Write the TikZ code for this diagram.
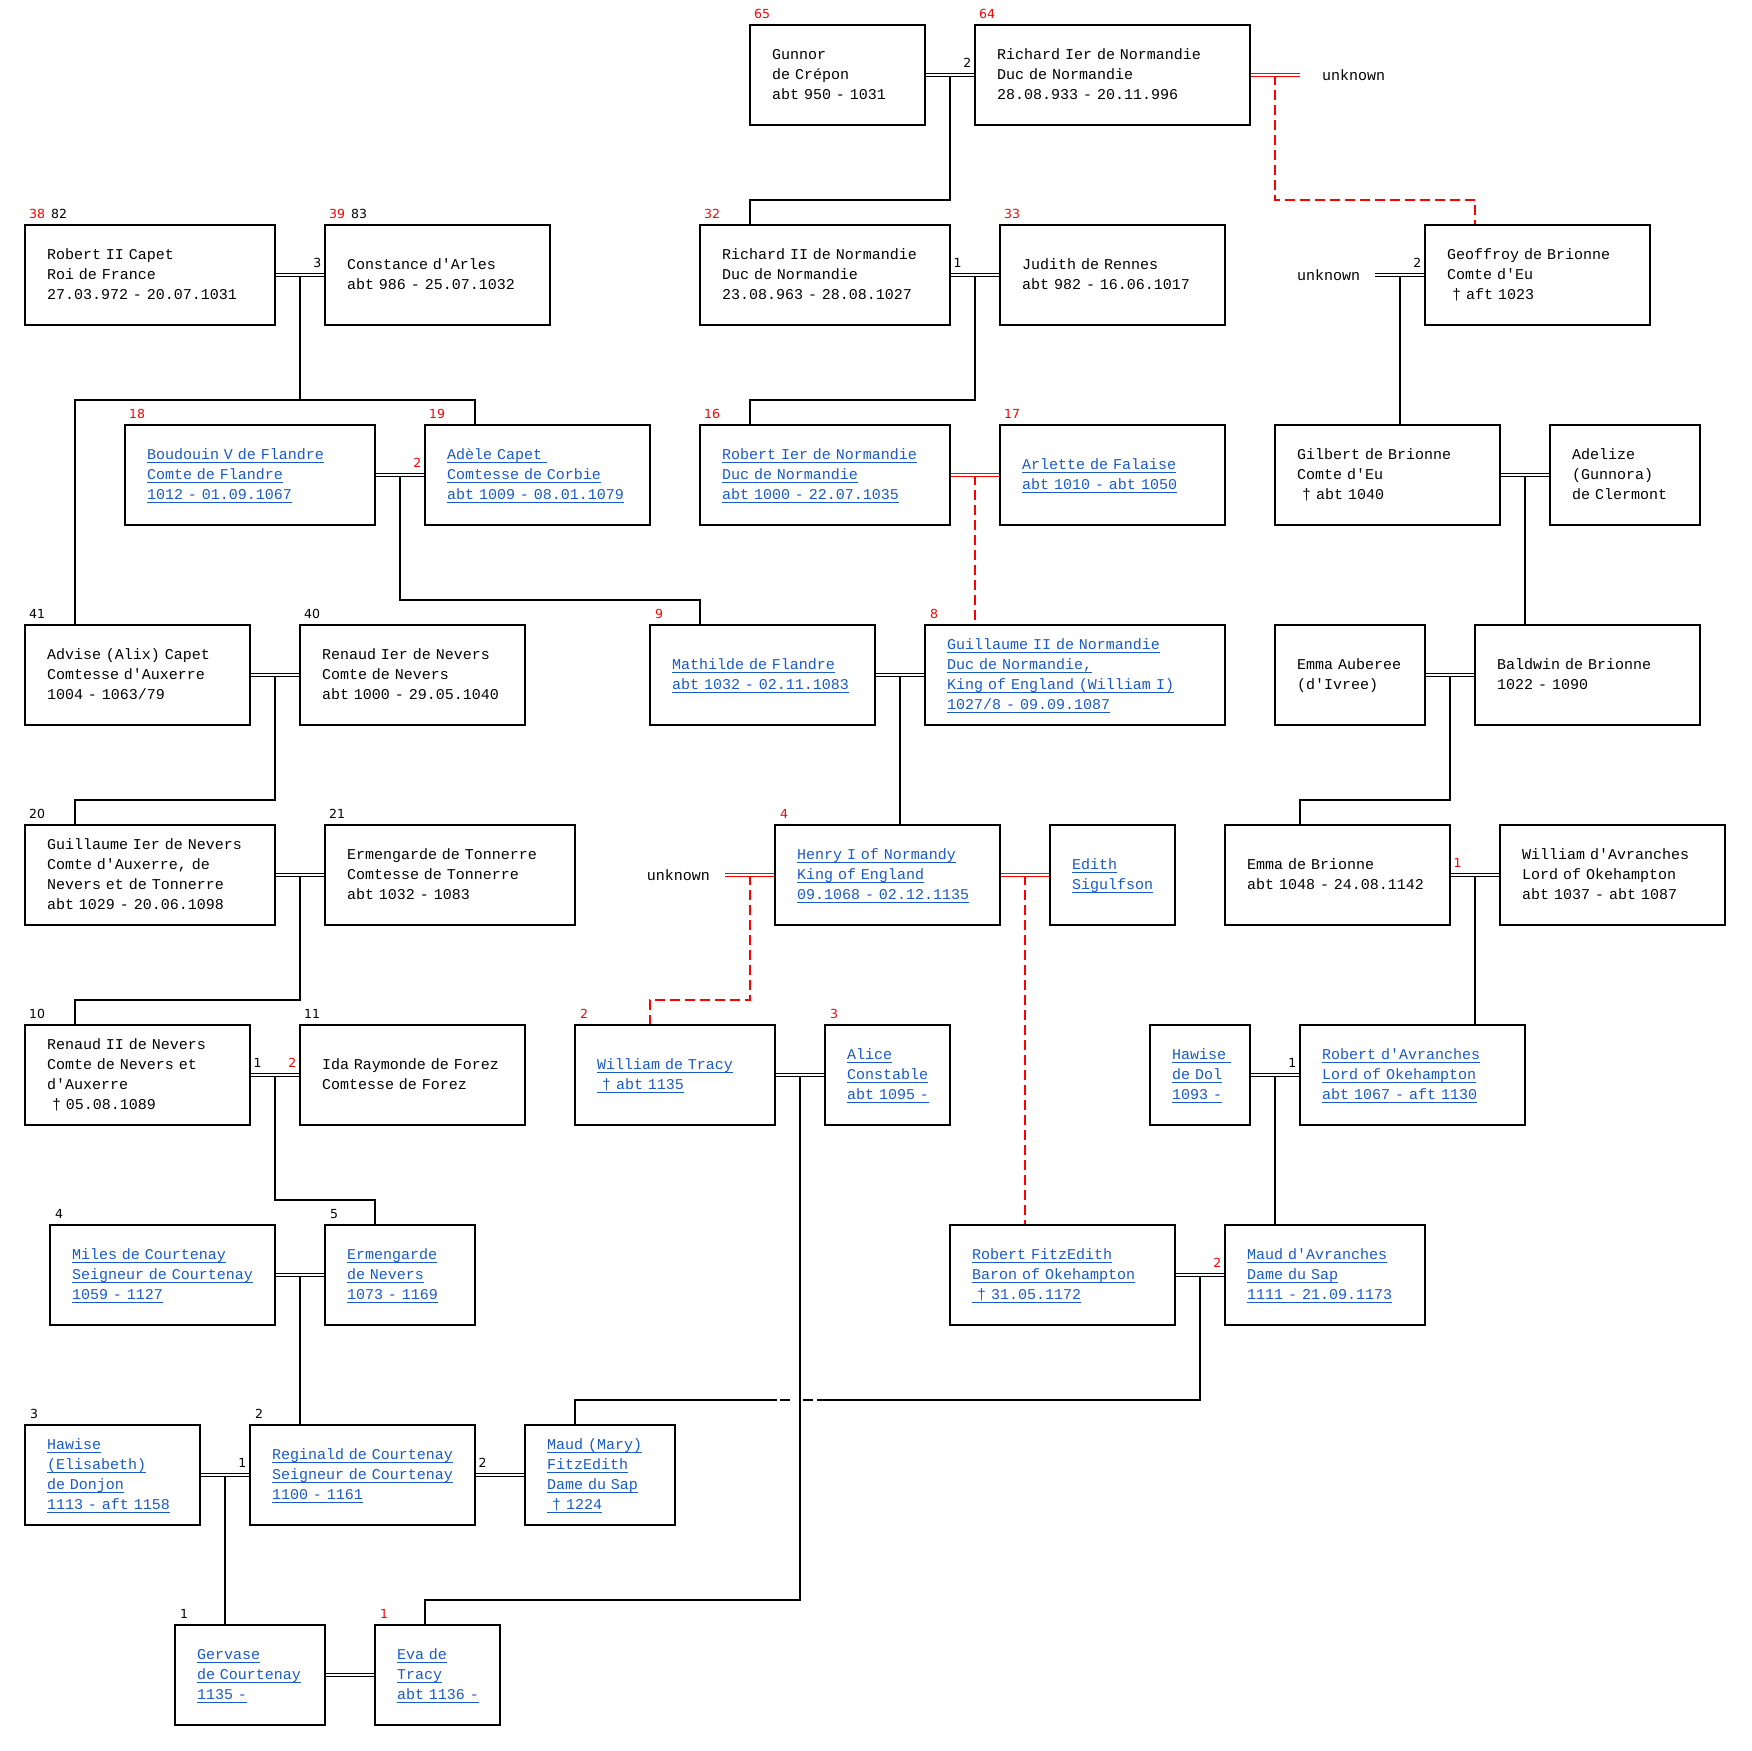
\documentclass[tikz,border=0pt]{standalone}
\usepackage{xcolor}
\usepackage{tikz}
\usepackage{fontspec}
\usetikzlibrary{positioning, calc, backgrounds}
\newfontfamily\boxfont{Liberation Mono}[Ligatures=TeXOff]
\newfontfamily\numfont{DejaVu Sans}
\definecolor{linkblue}{RGB}{25, 90, 200}
\definecolor{markred}{RGB}{255, 0, 0}

% lines of a box, never broken
\newcommand{\plines}[1]{\begin{tabular}{@{}l@{}}#1\end{tabular}}
% underlined line of a linked entry
\newcommand{\lnk}[1]{\setbox0=\hbox{#1}\rlap{\rule[-4pt]{\wd0}{1.1pt}}\box0}

\tikzset{
    person/.style={draw, line width=2.7pt, outer sep=0pt, inner xsep=22pt, inner ysep=0pt,
                   minimum height=100pt, anchor=north west, align=left, text width=#1,
                   font=\boxfont\fontsize{15}{20}\selectfont},
    linked/.style={text=linkblue},
    unk/.style={font=\boxfont\fontsize{15}{20}\selectfont, inner ysep=0pt, outer sep=0pt},
    num/.style={font=\numfont\fontsize{12.5}{14}\selectfont, inner sep=0pt, anchor=west},
    marr/.style={double, double distance=1.8pt, line width=0.9pt},
    kid/.style={line width=1.8pt},
    kidred/.style={line width=1.8pt, draw=markred, dash pattern=on 10pt off 5pt},
    hopgap/.style={fill=white}
}

\begin{document}
\begin{tikzpicture}[x=1pt, y=-1pt]
    \useasboundingbox (0,0) rectangle (1751,1751);

    % row 1
    \node[person=131pt] (gunnor) at (750,25) {\plines{Gunnor\\de Crépon\\abt 950 - 1031}};
    \node[person=231pt] (richard1) at (975,25) {\plines{Richard Ier de Normandie\\Duc de Normandie\\28.08.933 - 20.11.996}};
    \node[unk, anchor=west, inner xsep=22pt] (unkA) at (1300,75) {unknown};

    % row 2
    \node[person=206pt] (robert2) at (25,225) {\plines{Robert II Capet\\Roi de France\\27.03.972 - 20.07.1031}};
    \node[person=181pt] (constance) at (325,225) {\plines{Constance d'Arles\\abt 986 - 25.07.1032}};
    \node[person=206pt] (richard2) at (700,225) {\plines{Richard II de Normandie\\Duc de Normandie\\23.08.963 - 28.08.1027}};
    \node[person=181pt] (judith) at (1000,225) {\plines{Judith de Rennes\\abt 982 - 16.06.1017}};
    \node[unk, anchor=east, inner xsep=15pt] (unkB) at (1375,275) {unknown};
    \node[person=181pt] (geoffroy) at (1425,225) {\plines{Geoffroy de Brionne\\Comte d'Eu\\\ † aft 1023}};

    % row 3
    \node[person=206pt, linked] (boudouin) at (125,425) {\plines{\lnk{Boudouin V de Flandre}\\\lnk{Comte de Flandre}\\\lnk{1012 - 01.09.1067}}};
    \node[person=181pt, linked] (adele) at (425,425) {\plines{\lnk{Adèle Capet\ }\\\lnk{Comtesse de Corbie}\\\lnk{abt 1009 - 08.01.1079}}};
    \node[person=206pt, linked] (robert1) at (700,425) {\plines{\lnk{Robert Ier de Normandie}\\\lnk{Duc de Normandie}\\\lnk{abt 1000 - 22.07.1035}}};
    \node[person=181pt, linked] (arlette) at (1000,425) {\plines{\lnk{Arlette de Falaise}\\\lnk{abt 1010 - abt 1050}}};
    \node[person=181pt] (gilbert) at (1275,425) {\plines{Gilbert de Brionne\\Comte d'Eu\\\ † abt 1040}};
    \node[person=106pt] (adelize) at (1550,425) {\plines{Adelize\\(Gunnora)\\de Clermont}};

    % row 4
    \node[person=181pt] (advise) at (25,625) {\plines{Advise (Alix) Capet\\Comtesse d'Auxerre\\1004 - 1063/79}};
    \node[person=181pt] (renaud1) at (300,625) {\plines{Renaud Ier de Nevers\\Comte de Nevers\\abt 1000 - 29.05.1040}};
    \node[person=181pt, linked] (mathilde) at (650,625) {\plines{\lnk{Mathilde de Flandre}\\\lnk{abt 1032 - 02.11.1083}}};
    \node[person=256pt, linked] (guillaume2) at (925,625) {\plines{\lnk{Guillaume II de Normandie}\\\lnk{Duc de Normandie,}\\\lnk{King of England (William I)}\\\lnk{1027/8 - 09.09.1087}}};
    \node[person=106pt] (emmaaub) at (1275,625) {\plines{Emma Auberee\\(d'Ivree)}};
    \node[person=181pt] (baldwin) at (1475,625) {\plines{Baldwin de Brionne\\1022 - 1090}};

    % row 5
    \node[person=206pt] (guillaume1) at (25,825) {\plines{Guillaume Ier de Nevers\\Comte d'Auxerre, de\\Nevers et de Tonnerre\\abt 1029 - 20.06.1098}};
    \node[person=206pt] (ermtonn) at (325,825) {\plines{Ermengarde de Tonnerre\\Comtesse de Tonnerre\\abt 1032 - 1083}};
    \node[unk, anchor=east, inner xsep=15pt] (unkC) at (725,875) {unknown};
    \node[person=181pt, linked] (henry) at (775,825) {\plines{\lnk{Henry I of Normandy}\\\lnk{King of England}\\\lnk{09.1068 - 02.12.1135}}};
    \node[person=81pt, linked] (edith) at (1050,825) {\plines{\lnk{Edith}\\\lnk{Sigulfson}}};
    \node[person=181pt] (emmabri) at (1225,825) {\plines{Emma de Brionne\\abt 1048 - 24.08.1142}};
    \node[person=181pt] (williamav) at (1500,825) {\plines{William d'Avranches\\Lord of Okehampton\\abt 1037 - abt 1087}};

    % row 6
    \node[person=181pt] (renaud2) at (25,1025) {\plines{Renaud II de Nevers\\Comte de Nevers et\\d'Auxerre\\\ † 05.08.1089}};
    \node[person=181pt] (ida) at (300,1025) {\plines{Ida Raymonde de Forez\\Comtesse de Forez}};
    \node[person=156pt, linked] (tracy) at (575,1025) {\plines{\lnk{William de Tracy}\\\lnk{\ † abt 1135}}};
    \node[person=81pt, linked] (alice) at (825,1025) {\plines{\lnk{Alice}\\\lnk{Constable}\\\lnk{abt 1095 -}}};
    \node[person=56pt, linked] (hawisedol) at (1150,1025) {\plines{\lnk{Hawise\ }\\\lnk{de Dol}\\\lnk{1093 -}}};
    \node[person=181pt, linked] (robertav) at (1300,1025) {\plines{\lnk{Robert d'Avranches}\\\lnk{Lord of Okehampton}\\\lnk{abt 1067 - aft 1130}}};

    % row 7
    \node[person=181pt, linked] (miles) at (50,1225) {\plines{\lnk{Miles de Courtenay}\\\lnk{Seigneur de Courtenay}\\\lnk{1059 - 1127}}};
    \node[person=106pt, linked] (ermnevers) at (325,1225) {\plines{\lnk{Ermengarde}\\\lnk{de Nevers}\\\lnk{1073 - 1169}}};
    \node[person=181pt, linked] (fitzedith) at (950,1225) {\plines{\lnk{Robert FitzEdith}\\\lnk{Baron of Okehampton}\\\lnk{\ † 31.05.1172}}};
    \node[person=156pt, linked] (maudav) at (1225,1225) {\plines{\lnk{Maud d'Avranches}\\\lnk{Dame du Sap}\\\lnk{1111 - 21.09.1173}}};

    % row 8
    \node[person=131pt, linked] (hawise) at (25,1425) {\plines{\lnk{Hawise}\\\lnk{(Elisabeth)}\\\lnk{de Donjon}\\\lnk{1113 - aft 1158}}};
    \node[person=181pt, linked] (reginald) at (250,1425) {\plines{\lnk{Reginald de Courtenay}\\\lnk{Seigneur de Courtenay}\\\lnk{1100 - 1161}}};
    \node[person=106pt, linked] (maudmary) at (525,1425) {\plines{\lnk{Maud (Mary)}\\\lnk{FitzEdith}\\\lnk{Dame du Sap}\\\lnk{\ † 1224}}};

    % row 9
    \node[person=106pt, linked] (gervase) at (175,1625) {\plines{\lnk{Gervase}\\\lnk{de Courtenay}\\\lnk{1135 -}}};
    \node[person=81pt, linked] (eva) at (375,1625) {\plines{\lnk{Eva de}\\\lnk{Tracy}\\\lnk{abt 1136 -}}};

    % numbers over the boxes
    \node[num, text=markred] (noGunnor) at ([xshift=4pt, yshift=11pt]gunnor.north west) {65};
    \node[num, text=markred] (noRichard1) at ([xshift=4pt, yshift=11pt]richard1.north west) {64};
    \node[num] (noRobert2) at ([xshift=4pt, yshift=11pt]robert2.north west) {\textcolor{markred}{38}\hspace{6pt}82};
    \node[num] (noConstance) at ([xshift=4pt, yshift=11pt]constance.north west) {\textcolor{markred}{39}\hspace{6pt}83};
    \node[num, text=markred] (noRichard2) at ([xshift=4pt, yshift=11pt]richard2.north west) {32};
    \node[num, text=markred] (noJudith) at ([xshift=4pt, yshift=11pt]judith.north west) {33};
    \node[num, text=markred] (noBoudouin) at ([xshift=4pt, yshift=11pt]boudouin.north west) {18};
    \node[num, text=markred] (noAdele) at ([xshift=4pt, yshift=11pt]adele.north west) {19};
    \node[num, text=markred] (noRobert1) at ([xshift=4pt, yshift=11pt]robert1.north west) {16};
    \node[num, text=markred] (noArlette) at ([xshift=4pt, yshift=11pt]arlette.north west) {17};
    \node[num] (noAdvise) at ([xshift=4pt, yshift=11pt]advise.north west) {41};
    \node[num] (noRenaud1) at ([xshift=4pt, yshift=11pt]renaud1.north west) {40};
    \node[num, text=markred] (noMathilde) at ([xshift=5pt, yshift=11pt]mathilde.north west) {9};
    \node[num, text=markred] (noGuillaume2) at ([xshift=5pt, yshift=11pt]guillaume2.north west) {8};
    \node[num] (noGuillaume1) at ([xshift=4pt, yshift=11pt]guillaume1.north west) {20};
    \node[num] (noErmtonn) at ([xshift=4pt, yshift=11pt]ermtonn.north west) {21};
    \node[num, text=markred] (noHenry) at ([xshift=5pt, yshift=11pt]henry.north west) {4};
    \node[num] (noRenaud2) at ([xshift=4pt, yshift=11pt]renaud2.north west) {10};
    \node[num] (noIda) at ([xshift=4pt, yshift=11pt]ida.north west) {11};
    \node[num, text=markred] (noTracy) at ([xshift=5pt, yshift=11pt]tracy.north west) {2};
    \node[num, text=markred] (noAlice) at ([xshift=5pt, yshift=11pt]alice.north west) {3};
    \node[num] (noMiles) at ([xshift=5pt, yshift=11pt]miles.north west) {4};
    \node[num] (noErmnevers) at ([xshift=5pt, yshift=11pt]ermnevers.north west) {5};
    \node[num] (noHawise) at ([xshift=5pt, yshift=11pt]hawise.north west) {3};
    \node[num] (noReginald) at ([xshift=5pt, yshift=11pt]reginald.north west) {2};
    \node[num] (noGervase) at ([xshift=5pt, yshift=11pt]gervase.north west) {1};
    \node[num, text=markred] (noEva) at ([xshift=5pt, yshift=11pt]eva.north west) {1};

    % order of the marriages
    \node[num, anchor=south east] (ordRichard1) at ([xshift=-3.5pt, yshift=7pt]richard1.west) {2};
    \node[num, anchor=south east] (ordConstance) at ([xshift=-3.5pt, yshift=7pt]constance.west) {3};
    \node[num, anchor=south west] (ordRichard2) at ([xshift=3.5pt, yshift=7pt]richard2.east) {1};
    \node[num, anchor=south east] (ordGeoffroy) at ([xshift=-3.5pt, yshift=7pt]geoffroy.west) {2};
    \node[num, anchor=south east, text=markred] (ordAdele) at ([xshift=-3.5pt, yshift=7pt]adele.west) {2};
    \node[num, anchor=south west, text=markred] (ordEmmabri) at ([xshift=3.5pt, yshift=7pt]emmabri.east) {1};
    \node[num, anchor=south west] (ordRenaud2) at ([xshift=3.5pt, yshift=7pt]renaud2.east) {1};
    \node[num, anchor=south east, text=markred] (ordIda) at ([xshift=-3.5pt, yshift=7pt]ida.west) {2};
    \node[num, anchor=south east] (ordRobertav) at ([xshift=-3.5pt, yshift=7pt]robertav.west) {1};
    \node[num, anchor=south east, text=markred] (ordMaudav) at ([xshift=-3.5pt, yshift=7pt]maudav.west) {2};
    \node[num, anchor=south east] (ordReginaldL) at ([xshift=-3.5pt, yshift=7pt]reginald.west) {1};
    \node[num, anchor=south west] (ordReginaldR) at ([xshift=3.5pt, yshift=7pt]reginald.east) {2};

    \begin{scope}[on background layer]
        \fill[white] (0,0) rectangle (1751,1751);

        % couples
        \coordinate (mA) at ($(gunnor.east)!.5!(richard1.west)$);
        \coordinate (mB) at ($(robert2.east)!.5!(constance.west)$);
        \coordinate (mC) at ($(richard2.east)!.5!(judith.west)$);
        \coordinate (mD) at ($(unkB.east)!.5!(geoffroy.west)$);
        \coordinate (mE) at ($(boudouin.east)!.5!(adele.west)$);
        \coordinate (mF) at ($(robert1.east)!.5!(arlette.west)$);
        \coordinate (mG) at ($(gilbert.east)!.5!(adelize.west)$);
        \coordinate (mH) at ($(advise.east)!.5!(renaud1.west)$);
        \coordinate (mI) at ($(mathilde.east)!.5!(guillaume2.west)$);
        \coordinate (mJ) at ($(emmaaub.east)!.5!(baldwin.west)$);
        \coordinate (mK) at ($(guillaume1.east)!.5!(ermtonn.west)$);
        \coordinate (mL) at ($(unkC.east)!.5!(henry.west)$);
        \coordinate (mM) at ($(henry.east)!.5!(edith.west)$);
        \coordinate (mN) at ($(emmabri.east)!.5!(williamav.west)$);
        \coordinate (mO) at ($(renaud2.east)!.5!(ida.west)$);
        \coordinate (mP) at ($(tracy.east)!.5!(alice.west)$);
        \coordinate (mQ) at ($(hawisedol.east)!.5!(robertav.west)$);
        \coordinate (mR) at ($(miles.east)!.5!(ermnevers.west)$);
        \coordinate (mS) at ($(fitzedith.east)!.5!(maudav.west)$);
        \coordinate (mT) at ($(hawise.east)!.5!(reginald.west)$);
        \coordinate (mU) at ($(richard1.east)!.5!(unkA.west)$);

        % children
        \draw[kid] (mA) -- ++(0,125) -| ([xshift=50pt]richard2.north west);
        \draw[kid] (mB) -- ++(0,125) -| ([xshift=50pt]advise.north west);
        \draw[kid] (mB) ++(0,125) -| ([xshift=50pt]adele.north west);
        \draw[kid] (mC) -- ++(0,125) -| ([xshift=50pt]robert1.north west);
        \draw[kid] (mD) -- (mD |- gilbert.north);
        \draw[kid] (mE) -- ++(0,125) -| ([xshift=50pt]mathilde.north west);
        \draw[kid] (mG) -- (mG |- baldwin.north);
        \draw[kid] (mH) -- ++(0,125) -| ([xshift=50pt]guillaume1.north west);
        \draw[kid] (mI) -- (mI |- henry.north);
        \draw[kid] (mJ) -- ++(0,125) -| ([xshift=75pt]emmabri.north west);
        \draw[kid] (mK) -- ++(0,125) -| ([xshift=50pt]renaud2.north west);
        \draw[kid] (mN) -- (mN |- robertav.north);
        \draw[kid] (mO) -- ++(0,125) -| ([xshift=50pt]ermnevers.north west);
        \draw[kid] (mQ) -- (mQ |- maudav.north);
        \draw[kid] (mR) -- (mR |- reginald.north);
        \draw[kid] (mS) -- ++(0,125) -| ([xshift=50pt]maudmary.north west);
        \draw[kid] (mT) -- (mT |- gervase.north);
        % hop where two lines cross
        \fill[hopgap] (777,1397) rectangle (780,1403);
        \fill[hopgap] (790,1397) rectangle (803,1403);
        \fill[hopgap] (813,1397) rectangle (817,1403);
        \draw[kid] (mP) -- ++(0,525) -| ([xshift=50pt]eva.north west);

        \draw[kidred] (mU) -- ++(0,125) -| ([xshift=50pt]geoffroy.north west);
        \draw[kidred] (mF) -- (mF |- guillaume2.north);
        \draw[kidred] (mL) -- ++(0,125) -| ([xshift=75pt]tracy.north west);
        \draw[kidred] (mM) -- (mM |- fitzedith.north);

        % marriages
        \draw[marr] (gunnor) -- (richard1);
        \draw[marr, markred] (richard1.east) -- (unkA.west);
        \draw[marr] (robert2) -- (constance);
        \draw[marr] (richard2) -- (judith);
        \draw[marr] (unkB.east) -- (geoffroy.west);
        \draw[marr] (boudouin) -- (adele);
        \draw[marr, markred] (robert1) -- (arlette);
        \draw[marr] (gilbert) -- (adelize);
        \draw[marr] (advise) -- (renaud1);
        \draw[marr] (mathilde) -- (guillaume2);
        \draw[marr] (emmaaub) -- (baldwin);
        \draw[marr] (guillaume1) -- (ermtonn);
        \draw[marr, markred] (unkC.east) -- (henry.west);
        \draw[marr, markred] (henry) -- (edith);
        \draw[marr] (emmabri) -- (williamav);
        \draw[marr] (renaud2) -- (ida);
        \draw[marr] (tracy) -- (alice);
        \draw[marr] (hawisedol) -- (robertav);
        \draw[marr] (miles) -- (ermnevers);
        \draw[marr] (fitzedith) -- (maudav);
        \draw[marr] (hawise) -- (reginald);
        \draw[marr] (reginald) -- (maudmary);
        \draw[marr] (gervase) -- (eva);
    \end{scope}
\end{tikzpicture}
\end{document}
